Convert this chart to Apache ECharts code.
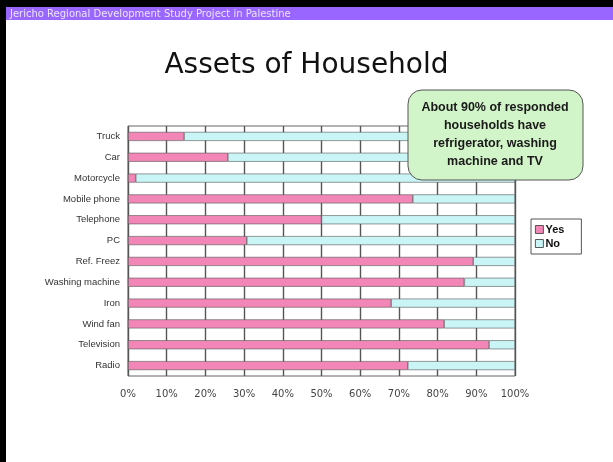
<!DOCTYPE html>
<html>
<head>
<meta charset="utf-8">
<title>Assets of Household</title>
<script src="https://cdn.jsdelivr.net/npm/echarts@6/dist/echarts.min.js"></script>
<style>
  html, body { margin: 0; padding: 0; background: #fff; }
  #chart { width: 613px; height: 462px; }
</style>
</head>
<body>
<div id="chart"></div>
<script>
// 资产类别（从上到下）
const categories = ['Truck', 'Car', 'Motorcycle', 'Mobile phone', 'Telephone', 'PC',
  'Ref. Freez', 'Washing machine', 'Iron', 'Wind fan', 'Television', 'Radio']
// 百分比
const yesValues = [14.5, 25.8, 2, 73.6, 50, 30.7, 89.2, 86.9, 68, 81.7, 93.3, 72.3]
const noValues = [85.5, 74.2, 98, 26.4, 50, 69.3, 10.8, 13.1, 32, 18.3, 6.7, 27.7]
const xTicks = [0, 10, 20, 30, 40, 50, 60, 70, 80, 90, 100]

const calloutLines = ['About 90% of responded', 'households have', 'refrigerator, washing', 'machine and TV']

const myChart = echarts.init(document.getElementById('chart'))

const barStyle = (color) => ({
  color,
  borderColor: '#555',
  borderWidth: 0.6,
})

const option = {
  animation: false,
  backgroundColor: '#fff',
  title: {
    text: 'Assets of Household',
    left: 'center',
    top: 47,
    textStyle: { fontFamily: 'DejaVu Sans', fontSize: 28, fontWeight: 'normal', color: '#111' },
  },
  legend: {
    orient: 'vertical',
    left: 531,
    top: 219,
    width: 40,
    padding: [5, 17, 5, 4],
    itemGap: 3,
    itemWidth: 8,
    itemHeight: 8,
    borderColor: '#555',
    borderWidth: 1,
    icon: 'rect',
    itemStyle: { borderColor: '#333', borderWidth: 0.8 },
    textStyle: { fontFamily: 'Liberation Sans', fontSize: 11, fontWeight: 'bold', color: '#111', padding: [0, 0, 0, -3] },
    data: ['Yes', 'No'],
  },
  grid: {
    left: 128,
    right: 98,
    top: 126,
    bottom: 86,
    show: true,
    borderColor: '#666',
    borderWidth: 1,
  },
  xAxis: {
    type: 'value',
    min: 0,
    max: 100,
    interval: 10,
    axisLine: { show: false },
    axisTick: { show: false },
    splitLine: { show: true, lineStyle: { color: '#555', width: 1.4 } },
    axisLabel: {
      margin: 13,
      formatter: (v) => (xTicks.includes(v) ? v + '%' : ''),
      fontFamily: 'DejaVu Sans',
      fontSize: 10,
      color: '#444',
    },
  },
  yAxis: {
    type: 'category',
    inverse: true,
    data: categories,
    axisLine: { show: false },
    axisTick: { show: false },
    axisLabel: { margin: 8, fontFamily: 'Liberation Sans', fontSize: 9.5, color: '#333' },
  },
  series: [
    {
      name: 'Yes',
      type: 'bar',
      stack: 'total',
      barWidth: 9,
      data: yesValues,
      itemStyle: barStyle('#f286b6'),
    },
    {
      name: 'No',
      type: 'bar',
      stack: 'total',
      barWidth: 9,
      data: noValues,
      itemStyle: barStyle('#c9f5f7'),
    },
  ],
  graphic: [
    // 顶部紫色标题栏与黑边
    { type: 'rect', shape: { x: 0, y: 0, width: 613, height: 7 }, style: { fill: '#000' }, z: 100 },
    { type: 'rect', shape: { x: 0, y: 7, width: 613, height: 13 }, style: { fill: '#9966ff' }, z: 100 },
    { type: 'rect', shape: { x: 0, y: 0, width: 6, height: 462 }, style: { fill: '#000' }, z: 101 },
    {
      type: 'text',
      left: 10,
      top: 9,
      z: 102,
      style: {
        text: 'Jericho Regional Development Study Project in Palestine',
        fill: '#ece4ff',
        font: '10px "DejaVu Sans"',
      },
    },
    // 说明框
    {
      type: 'rect',
      shape: { x: 408, y: 90, width: 175, height: 90, r: 14 },
      style: { fill: '#d2f4c9', stroke: '#555', lineWidth: 1 },
      z: 110,
    },
    {
      type: 'text',
      x: 495,
      y: 135,
      z: 111,
      style: {
        text: calloutLines.join('\n'),
        fill: '#1a1a1a',
        font: 'bold 12.5px "Liberation Sans"',
        lineHeight: 18,
        align: 'center',
        verticalAlign: 'middle',
      },
    },
  ],
}

myChart.setOption(option)
</script>
</body>
</html>
